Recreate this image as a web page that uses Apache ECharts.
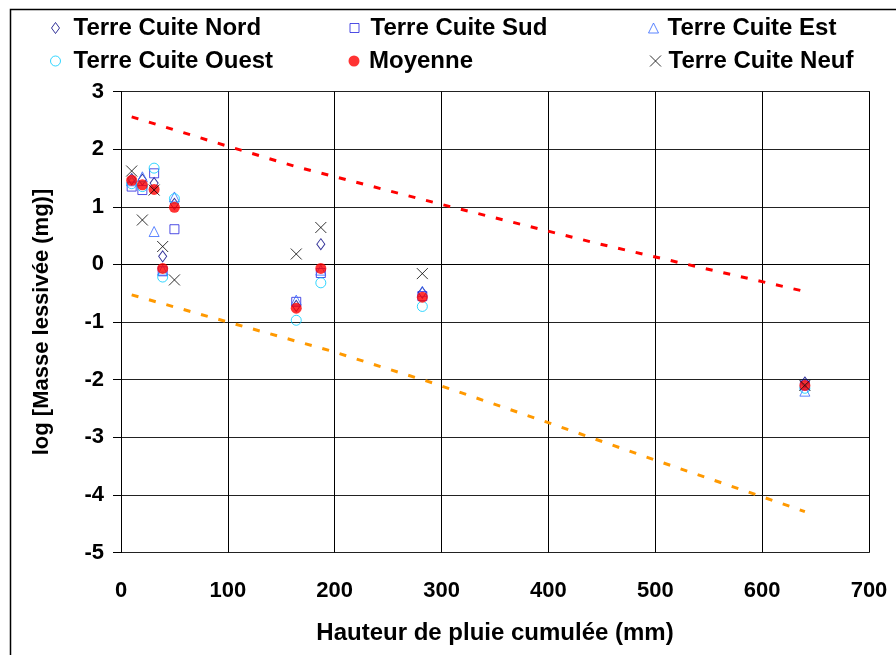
<!DOCTYPE html>
<html>
<head>
<meta charset="utf-8">
<script src="https://cdn.jsdelivr.net/npm/echarts@6/dist/echarts.min.js"></script>
<style>
html,body{margin:0;padding:0;background:#fff;}
#chart{width:896px;height:655px;}
</style>
</head>
<body>
<div id="chart"></div>
<script>
const xValues = [10, 20, 31, 39, 50, 164, 187, 282, 640];
const nord    = [1.48, 1.47, 1.41, 0.14, 1.05, -0.72, 0.35, -0.49, -2.05];
const sud     = [1.35, 1.29, 1.58, -0.12, 0.61, -0.65, -0.15, -0.55, -2.10];
const est     = [1.45, 1.52, 0.57, -0.10, 1.17, -0.62, -0.10, -0.47, -2.20];
const ouest   = [1.40, 1.35, 1.67, -0.22, 1.14, -0.97, -0.32, -0.73, -2.15];
const moyenne = [1.46, 1.38, 1.30, -0.07, 0.99, -0.76, -0.07, -0.57, -2.10];
const neuf    = [1.62, 0.77, 1.29, 0.31, -0.27, 0.18, 0.64, -0.16, -2.10];

const redLine    = [[10, 2.56], [100, 2.05], [163, 1.70], [300, 1.04], [442, 0.38], [525, 0.02], [640, -0.47]];
const orangeLine = [[10, -0.53], [100, -1.00], [196, -1.50], [292, -2.06], [405, -2.78], [502, -3.41], [598, -4.02], [640, -4.29]];

const xTicks = { min: 0, max: 700, interval: 100 };
const yTicks = { min: -5, max: 3, interval: 1 };

const FONT = '"Liberation Sans", Arial, sans-serif';
const CROSS = 'path://M0,0 L10,10 M10,0 L0,10';

function pts(vals) { return xValues.map((x, i) => [x, vals[i]]); }

const seriesDefs = [
  { name: 'Terre Cuite Nord', data: nord, symbol: 'diamond', size: [8, 11], style: { color: 'rgba(255,255,255,0)', borderColor: '#000080', borderWidth: 1 } },
  { name: 'Terre Cuite Sud', data: sud, symbol: 'rect', size: [9, 9], style: { color: 'rgba(255,255,255,0)', borderColor: '#2222DD', borderWidth: 1 } },
  { name: 'Terre Cuite Est', data: est, symbol: 'triangle', size: [10, 10], style: { color: 'rgba(255,255,255,0)', borderColor: '#3366FF', borderWidth: 1 } },
  { name: 'Terre Cuite Ouest', data: ouest, symbol: 'circle', size: [10, 10], style: { color: 'rgba(255,255,255,0)', borderColor: '#00CCFF', borderWidth: 1 } },
  { name: 'Moyenne', data: moyenne, symbol: 'circle', size: [11, 11], style: { color: '#FF0000', borderColor: '#FF0000', borderWidth: 0 } },
  { name: 'Terre Cuite Neuf', data: neuf, symbol: CROSS, size: [11, 11], style: { color: 'none', borderColor: '#000000', borderWidth: 1 } }
];

const legendCenters = [
  { cx: 55, cy: 30, tx: 73 }, { cx: 354, cy: 30, tx: 370 }, { cx: 653, cy: 30, tx: 667 },
  { cx: 55, cy: 63, tx: 73 }, { cx: 354, cy: 63, tx: 369 }, { cx: 653, cy: 63, tx: 666 }
];

const legends = seriesDefs.map((s, i) => {
  const w = s.size[0], h = s.size[1];
  const c = legendCenters[i];
  return {
    left: c.cx - w / 2,
    top: c.cy - 14,
    orient: 'horizontal',
    itemWidth: w,
    itemHeight: h,
    padding: 0,
    selectedMode: false,
    textStyle: { fontFamily: FONT, fontWeight: 'bold', fontSize: 24, color: '#000', padding: [0, 0, 0, Math.max(0, c.tx - c.cx - w / 2 - 5)] },
    data: [{ name: s.name, icon: s.symbol, itemStyle: s.style }]
  };
});

const chart = echarts.init(document.getElementById('chart'), null, { renderer: 'canvas' });

chart.setOption({
  animation: false,
  backgroundColor: '#fff',
  legend: legends,
  graphic: [{
    type: 'rect',
    shape: { x: 10.5, y: 9.5, width: 1000, height: 1000 },
    style: { fill: 'none', stroke: '#000', lineWidth: 1.5 },
    silent: true
  }, {
    type: 'line',
    shape: { x1: 869.5, y1: 91.5, x2: 869.5, y2: 552.5 },
    style: { stroke: '#000', lineWidth: 1 },
    silent: true
  }, {
    type: 'line',
    shape: { x1: 121, y1: 91.5, x2: 869.5, y2: 91.5 },
    style: { stroke: '#000', lineWidth: 1 },
    silent: true
  }],
  grid: { left: 121, right: 27, top: 91.5, bottom: 102.5, show: false },
  xAxis: {
    type: 'value',
    min: xTicks.min, max: xTicks.max, interval: xTicks.interval,
    name: 'Hauteur de pluie cumulée (mm)',
    nameLocation: 'middle',
    nameGap: 69,
    nameTextStyle: { fontFamily: FONT, fontWeight: 'bold', fontSize: 24, color: '#000' },
    axisLine: { show: true, lineStyle: { color: '#000', width: 1 } },
    axisTick: { show: false },
    axisLabel: { margin: 27, fontFamily: FONT, fontWeight: 'bold', fontSize: 22, color: '#000' },
    splitLine: { show: true, lineStyle: { color: '#000', width: 1 } }
  },
  yAxis: {
    type: 'value',
    min: yTicks.min, max: yTicks.max, interval: yTicks.interval,
    name: 'log [Masse lessivée (mg)]',
    nameLocation: 'middle',
    nameGap: 68,
    nameTextStyle: { fontFamily: FONT, fontWeight: 'bold', fontSize: 22, color: '#000' },
    axisLine: { show: true, lineStyle: { color: '#000', width: 1 } },
    axisTick: { show: true, inside: false, length: 8, lineStyle: { color: '#000' } },
    axisLabel: { margin: 17, fontFamily: FONT, fontWeight: 'bold', fontSize: 22, color: '#000' },
    splitLine: { show: true, lineStyle: { color: '#222', width: 1 } }
  },
  series: [
    {
      type: 'line', name: 'redfit', data: redLine, symbol: 'none', smooth: false, silent: true,
      lineStyle: { color: '#FF0000', width: 3, type: [7, 11] }, z: 1
    },
    {
      type: 'line', name: 'orangefit', data: orangeLine, symbol: 'none', smooth: false, silent: true,
      lineStyle: { color: '#FF9900', width: 3, type: [7, 11] }, z: 1
    }
  ].concat(seriesDefs.map((s, i) => ({
    type: 'scatter',
    name: s.name,
    data: pts(s.data),
    symbol: s.symbol,
    symbolSize: s.size,
    itemStyle: s.style,
    z: 2 + i
  })))
});
</script>
</body>
</html>
